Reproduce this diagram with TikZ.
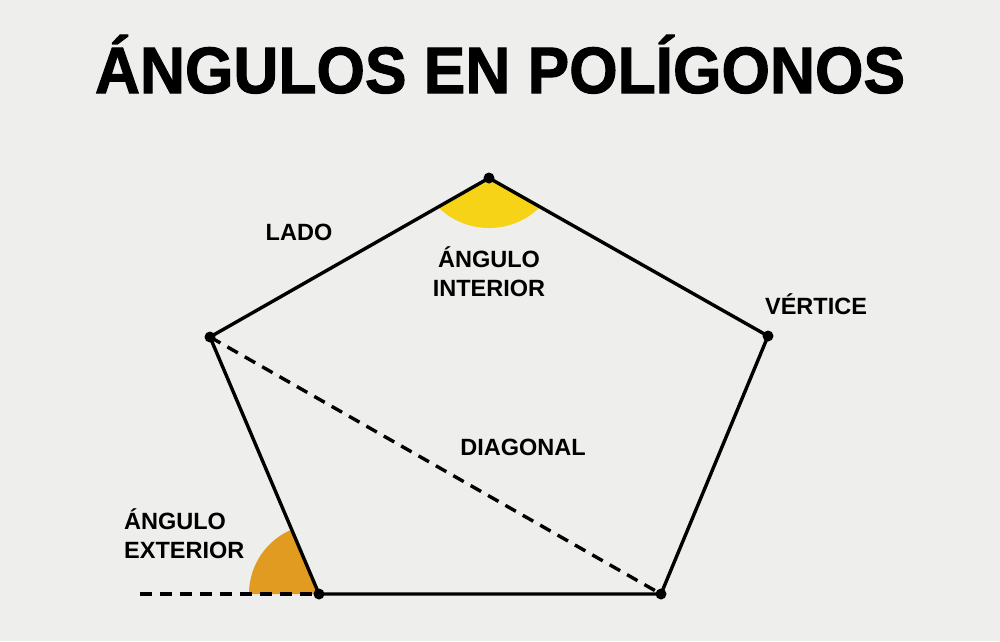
\documentclass[tikz,border=0pt]{standalone}
\usepackage{fontspec}
\usepackage{graphicx}
\setmainfont{Liberation Sans}
\newfontfamily\titlefont[FakeBold=1.6]{Liberation Sans Bold}
\definecolor{bgc}{RGB}{238,238,236}
\definecolor{yel}{RGB}{246,211,22}
\definecolor{ora}{RGB}{224,155,32}
\tikzset{
  edge/.style={line width=3.4pt, black, line cap=round},
  dashedge/.style={line width=3.4pt, black, dash pattern=on 12pt off 8pt},
  lbl/.style={font=\bfseries\fontsize{23.5}{28}\selectfont, inner sep=0pt, anchor=base},
}
\begin{document}
\begin{tikzpicture}[x=1pt,y=-1pt]
\fill[bgc] (0,0) rectangle (1000,641);
\useasboundingbox (0,0) rectangle (1000,641);
% vertices
\coordinate (A) at (489,178);
\coordinate (B) at (768,336);
\coordinate (C) at (661,594);
\coordinate (D) at (319,594);
\coordinate (E) at (210,337);
\coordinate (X) at (140,594);
% interior angle
\begin{scope}
\clip (A) -- (E) -- (B) -- cycle;
\fill[yel] (489,155.5) circle [radius=72.5pt];
\end{scope}
% exterior angle
\begin{scope}
\clip (D) -- (E) -- (100,337) -- (100,594) -- cycle;
\fill[ora] (D) circle [radius=70pt];
\end{scope}
% pentagon
\draw[edge, line join=round] (A) -- (B) -- (C) -- (D) -- (E) -- cycle;
\draw[dashedge] (E) -- (C);
\draw[dashedge] (X) -- (D);
\foreach \p in {A,B,C,D,E} \fill (\p) circle [radius=5.5pt];
% title
\node[inner sep=0pt, anchor=base] (title) at (500,93)
  {\resizebox{810pt}{\height}{\titlefont\fontsize{65.6}{70}\selectfont ÁNGULOS EN POLÍGONOS}};
% labels
\node[lbl] (lado) at (299,240) {LADO};
\node[lbl] (vert) at (816,314) {VÉRTICE};
\node[lbl] (diag) at (523,455) {DIAGONAL};
\node[lbl] (int1) at (489,267) {ÁNGULO};
\node[lbl] (int2) at (489,296) {INTERIOR};
\node[lbl, anchor=base west] (ext1) at (124,529) {ÁNGULO};
\node[lbl, anchor=base west] (ext2) at (124,558) {EXTERIOR};
\end{tikzpicture}
\end{document}
